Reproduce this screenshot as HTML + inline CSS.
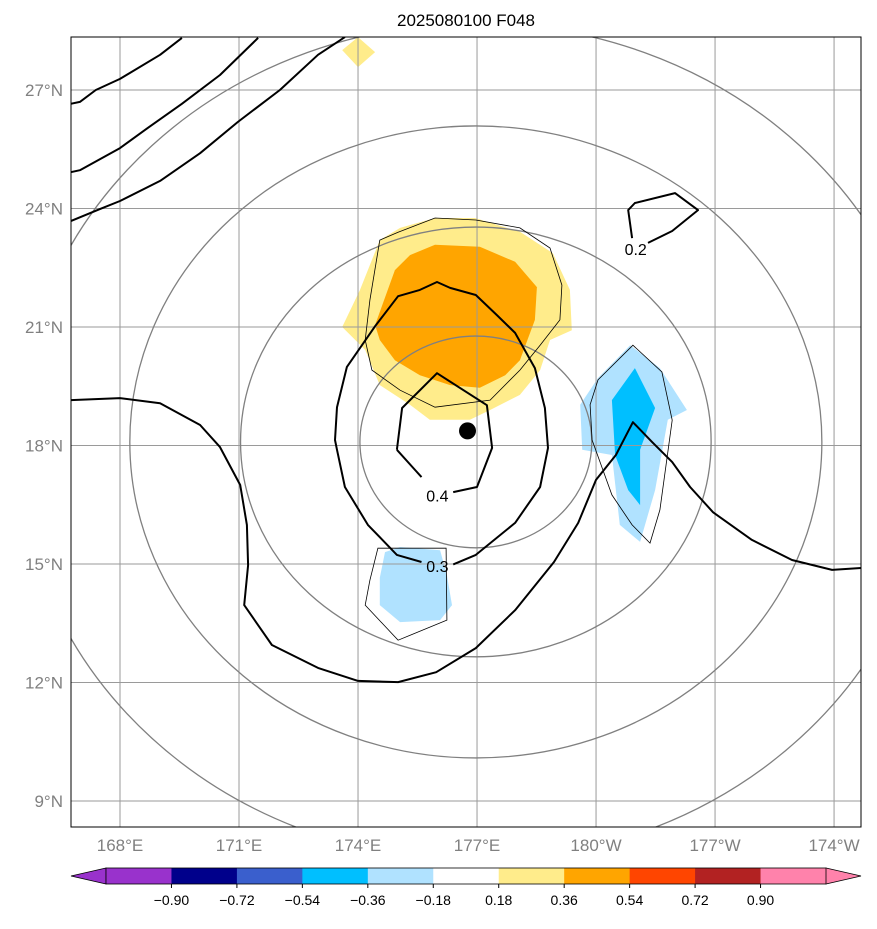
<!DOCTYPE html>
<html><head><meta charset="utf-8"><style>
html,body{margin:0;padding:0;background:#fff;}
svg text{font-family:"Liberation Sans","DejaVu Sans",sans-serif;}
</style></head><body>
<svg id="chart" width="877" height="924" xmlns="http://www.w3.org/2000/svg"></svg>
<script>
// ---------- data ----------
const lonTicks=[168,171,174,177,180,183,186];
const lonLabels=["168°E","171°E","174°E","177°E","180°W","177°W","174°W"];
const latTicks=[9,12,15,18,21,24,27];
const latLabels=["9°N","12°N","15°N","18°N","21°N","24°N","27°N"];
const cbLevels=[-0.90,-0.72,-0.54,-0.36,-0.18,0.18,0.36,0.54,0.72,0.90];
const cbLabels=["−0.90","−0.72","−0.54","−0.36","−0.18","0.18","0.36","0.54","0.72","0.90"];
const cbColors=["#9932cc","#00008b","#3a5fcd","#00bfff","#b0e2ff","#ffffff","#ffec8b","#ffa500","#ff4500","#b22222","#ff82ab"];
const center=[176.97,18.09];
const circleRadii=[2.68,5.44,8.0,10.6];
const fillYellow=[[173.6,21.0],[174.05,21.94],[174.55,23.2],[175.06,23.51],[175.94,23.76],[176.95,23.76],[178.08,23.41],[178.91,22.87],[179.34,21.94],[179.39,20.92],[178.84,20.67],[178.59,19.91],[178.08,19.28],[177.33,18.9],[176.82,18.65],[175.81,18.65],[175.31,19.03],[174.55,19.53],[174.18,20.42]];
const fillOrange=[[174.43,21.05],[174.93,22.44],[175.31,22.82],[175.94,23.08],[177.07,23.03],[177.96,22.65],[178.51,22.01],[178.46,21.18],[178.08,20.16],[177.71,19.78],[177.07,19.46],[176.32,19.53],[175.56,19.78],[174.93,20.16],[174.55,20.67]];
const fillYellowTop=[[173.6,28.01],[174.0,28.34],[174.43,27.96],[174.0,27.58]];
const fillBlueEast=[[179.6,19.03],[180.05,19.71],[180.86,20.54],[181.61,19.96],[182.29,18.9],[181.81,18.65],[181.49,16.87],[181.11,15.56],[180.6,15.99],[180.4,17.76],[179.65,17.89]];
const fillSkyEast=[[180.4,19.15],[180.98,19.96],[181.49,18.95],[181.11,17.89],[181.11,16.49],[180.81,16.87],[180.48,17.76]];
const fillBlueSouth=[[174.55,14.65],[174.68,15.3],[175.06,15.43],[176.07,15.35],[176.24,14.72],[176.37,13.96],[176.07,13.58],[175.06,13.53],[174.55,13.96]];
const thinYellow=[[174.55,23.2],[175.01,23.4],[175.94,23.76],[176.97,23.71],[178.08,23.51],[178.84,23.0],[179.14,22.06],[179.09,21.18],[178.59,20.54],[178.08,19.91],[177.33,19.15],[175.94,18.97],[175.06,19.4],[174.35,19.91],[174.18,20.67],[174.3,21.68]];
const thinBlueEast=[[180.05,19.66],[180.93,20.54],[181.66,19.86],[181.92,18.64],[181.61,16.37],[181.36,15.53],[180.91,15.99],[180.4,16.75],[179.9,18.14],[179.85,19.03]];
const thinBlueSouth=[[174.3,14.59],[174.5,15.4],[176.22,15.4],[176.24,13.58],[175.01,13.07],[174.18,13.96]];
const c04=[[174.98,17.89],[175.11,18.95],[175.99,19.83],[177.25,19.02],[177.38,17.94],[177.0,16.95],[176.4,16.82]];
const c04b=[[175.6,17.2],[175.44,17.38],[174.98,17.89]];
const c03=[[175.6,15.05],[174.98,15.23],[174.25,15.99],[173.67,16.95],[173.47,17.89],[173.42,18.14],[173.47,18.97],[173.72,19.99],[174.43,21.02],[175.01,21.78],[175.56,21.94],[175.99,22.14],[176.32,21.99],[176.97,21.81],[177.5,21.3],[177.96,20.85],[178.46,19.96],[178.71,18.95],[178.79,17.94],[178.59,16.95],[177.96,16.04],[176.97,15.23],[176.4,14.99]];
const c02=[[166.76,19.15],[168,19.2],[169.01,19.07],[170.02,18.52],[170.52,17.96],[171.03,17.0],[171.2,15.99],[171.23,14.97],[171.13,13.96],[171.83,12.95],[172.99,12.37],[174.0,12.04],[175.01,12.01],[175.97,12.26],[176.97,12.87],[177.96,13.83],[178.94,15.05],[179.55,16.04],[180.0,17.13],[180.5,17.76],[180.93,18.59],[181.41,18.09],[181.92,17.58],[182.37,16.95],[182.95,16.31],[183.93,15.61],[184.94,15.1],[185.95,14.85],[186.68,14.9]];
const cA=[[166.76,26.65],[166.99,26.7],[167.39,27.0],[168,27.28],[169.01,27.89],[169.56,28.32]];
const cB=[[166.76,24.92],[166.99,24.97],[168,25.53],[168.63,25.99],[169.56,26.65],[170.52,27.38],[171.48,28.32]];
const cC=[[166.76,23.68],[167.5,23.99],[168,24.19],[169.01,24.7],[170.02,25.4],[170.97,26.19],[172.03,27.0],[172.99,27.89],[173.67,28.34]];
const cNE=[[180.91,23.25],[180.81,23.96],[180.98,24.14],[181.99,24.39],[182.57,23.96],[181.92,23.43],[181.31,23.13]];
const contourLabels=[["0.2",181.0,22.97],["0.4",176.0,16.73],["0.3",176.0,14.95]];
const stormCenter=[176.76,18.37];

// ---------- projection ----------
const L=71,R=861,T=37,B=827;
const X=lon=>120+(lon-168)*39.67;
const Y=lat=>90+(27-lat)*39.5;
const NS="http://www.w3.org/2000/svg";
const svg=document.getElementById('chart');
function mk(tag,attrs,parent){const e=document.createElementNS(NS,tag);for(const k in attrs)e.setAttribute(k,attrs[k]);(parent||svg).appendChild(e);return e;}
const pts=a=>a.map(p=>X(p[0]).toFixed(1)+','+Y(p[1]).toFixed(1)).join(' ');

const defs=mk('defs',{});
const cp=mk('clipPath',{id:'clip'},defs);
mk('rect',{x:L,y:T,width:R-L,height:B-T},cp);
const plot=mk('g',{'clip-path':'url(#clip)'});



// fills
[[fillYellow,cbColors[6],'fill-yellow'],[fillOrange,cbColors[7],'fill-orange'],[fillYellowTop,cbColors[6],'fill-yellow-top'],[fillBlueEast,cbColors[4],'fill-blue-east'],[fillSkyEast,cbColors[3],'fill-sky-east'],[fillBlueSouth,cbColors[4],'fill-blue-south']].forEach(f=>{
  const e=mk('polygon',{points:pts(f[0]),fill:f[1],stroke:'none'},plot);
  
  
});
// grid
lonTicks.forEach(v=>{const e=mk('line',{x1:X(v),x2:X(v),y1:T,y2:B,stroke:'#9a9a9a','stroke-width':1},plot);

});
latTicks.forEach(v=>{const e=mk('line',{x1:L,x2:R,y1:Y(v),y2:Y(v),stroke:'#9a9a9a','stroke-width':1},plot);

});
// distance circles
circleRadii.forEach(r=>{const e=mk('ellipse',{cx:X(center[0]),cy:Y(center[1]),rx:r*39.5*1.095,ry:r*39.5,fill:'none',stroke:'#808080','stroke-width':1.3},plot);

});
// thin contours
[thinYellow,thinBlueEast,thinBlueSouth].forEach(a=>{const e=mk('polygon',{points:pts(a),fill:'none',stroke:'#000','stroke-width':0.8},plot);

});
// thick contours
[c04,c04b,c03,c02,cA,cB,cC,cNE].forEach(a=>{const e=mk('polyline',{points:pts(a),fill:'none',stroke:'#000','stroke-width':2,'stroke-linejoin':'round'},plot);

});
contourLabels.forEach(c=>{const e=mk('text',{x:X(c[1]),y:Y(c[2])+6,'font-size':16,'text-anchor':'middle',fill:'#000'},plot);e.textContent=c[0];

});
const dot=mk('circle',{cx:X(stormCenter[0]),cy:Y(stormCenter[1]),r:8.5,fill:'#000'},plot);



// frame
const fr=mk('rect',{x:L,y:T,width:R-L,height:B-T,fill:'none',stroke:'#000','stroke-width':1});


// axis labels
lonTicks.forEach((v,i)=>{const e=mk('text',{x:X(v),y:851,'font-size':17,'text-anchor':'middle',fill:'#808080'});e.textContent=lonLabels[i];

});
latTicks.forEach((v,i)=>{const e=mk('text',{x:63,y:Y(v)+6,'font-size':17,'text-anchor':'end',fill:'#808080'});e.textContent=latLabels[i];

});
const title=mk('text',{x:466,y:26,'font-size':17,'text-anchor':'middle',fill:'#000'});title.textContent='2025080100 F048';



// colorbar
const cbL=106,cbR=826,cbT=868,cbB=884,cbW=(cbR-cbL)/(cbColors.length);
const cbx=v=>cbL+cbW*(cbLevels.indexOf(v)+1);
const cbg=mk('g',{});


const lt=mk('polygon',{points:`${L},${(cbT+cbB)/2} ${cbL},${cbT} ${cbL},${cbB}`,fill:cbColors[0],stroke:'#000','stroke-width':0.8},cbg);


const rt=mk('polygon',{points:`${R},${(cbT+cbB)/2} ${cbR},${cbT} ${cbR},${cbB}`,fill:cbColors[cbColors.length-1],stroke:'#000','stroke-width':0.8},cbg);


cbColors.forEach((c,i)=>{const e=mk('rect',{x:cbL+i*cbW,y:cbT,width:cbW+0.5,height:cbB-cbT,fill:c},cbg);

});
mk('rect',{x:cbL,y:cbT,width:cbR-cbL,height:cbB-cbT,fill:'none',stroke:'#000','stroke-width':0.8},cbg);
cbLevels.forEach((v,i)=>{mk('line',{x1:cbx(v),x2:cbx(v),y1:cbB,y2:cbB+4,stroke:'#000'},cbg);
const e=mk('text',{x:cbx(v),y:905,'font-size':14,'text-anchor':'middle',fill:'#000'},cbg);e.textContent=cbLabels[i];

});
</script>
</body></html>
